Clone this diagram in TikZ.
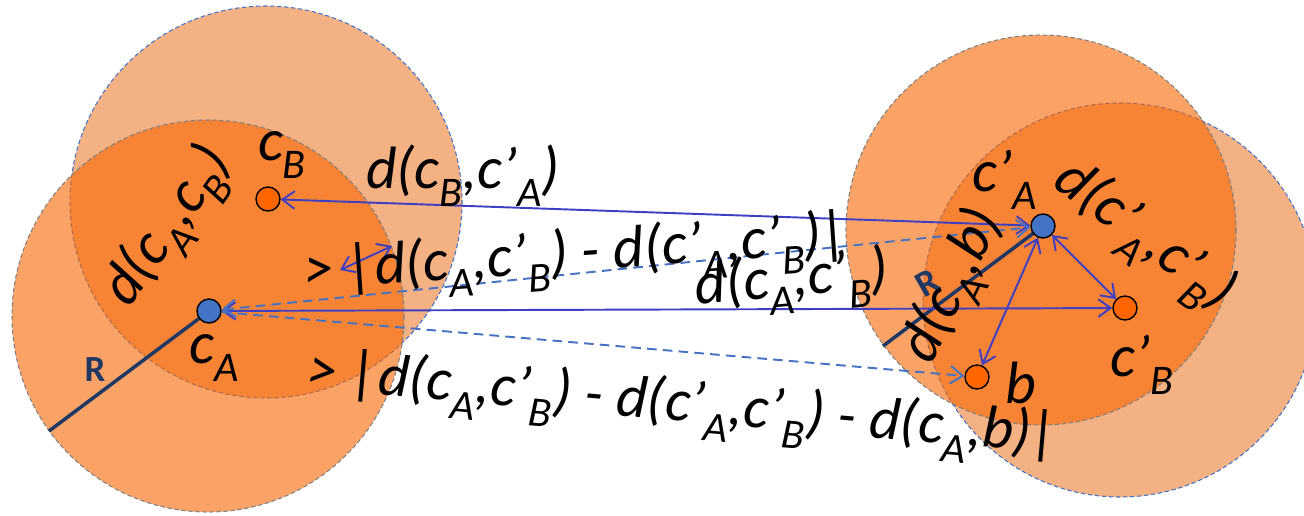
\documentclass[tikz,border=0pt]{standalone}
\usepackage{fontspec}
\setmainfont{Carlito}
\usetikzlibrary{arrows.meta}
\definecolor{peach}{HTML}{F4B183}
\definecolor{flame}{HTML}{F86600}
\definecolor{rimgray}{HTML}{7F7F7F}
\definecolor{rimblue}{HTML}{4472C4}
\definecolor{linkblue}{HTML}{3F3FC4}
\definecolor{dashblue}{HTML}{4472C4}
\definecolor{navy}{HTML}{203864}
\definecolor{dotorange}{HTML}{FF6600}
\newcommand\lbl{\fontsize{34}{38}\selectfont\itshape}
\newcommand\lo[1]{\raisebox{-.3em}{\fontsize{24}{26}\selectfont #1}}
\tikzset{>={Straight Barb[length=7pt,width=10pt]},
  every node/.style={font=\lbl,inner sep=0pt},
  lightdisc/.style={fill=peach,draw=rimblue,dash pattern=on 2.5pt off 1.5pt,line width=.6pt},
  deepdisc/.style={fill=flame,fill opacity=.6,draw=rimgray,draw opacity=1,dash pattern=on 2.5pt off 1.5pt,line width=.6pt},
  radiusline/.style={draw=navy,line width=2pt},
  rlabel/.style={font=\fontsize{21}{23}\selectfont\bfseries,text=navy},
  centre/.style={circle,draw=black,line width=.8pt,minimum size=.48cm},
  solidlink/.style={<->,draw=linkblue,line width=1.1pt},
  dashlink/.style={draw=dashblue,dash pattern=on 5.5pt off 3.5pt,line width=1.1pt}}
\begin{document}
\begin{tikzpicture}[x=.02cm,y=-.02cm]
\useasboundingbox (0,0) rectangle (1304,515);
\clip (0,0) rectangle (1304,515);
% points
\coordinate (pA) at (209,311);\coordinate (pB) at (268,199);
\coordinate (pAp) at (1043,226);\coordinate (pBp) at (1125,308);
\coordinate (pb) at (977,377);
\coordinate (rimA) at (49,431);\coordinate (rimAp) at (883,346);
\coordinate (gapL) at (340,270);\coordinate (gapR) at (392,246);
% discs
\draw[lightdisc] (266,202) circle (196);
\draw[deepdisc] (208,316) circle (196);
\draw[lightdisc] (1120,300) circle (197);
\draw[deepdisc] (1041,230) circle (195);
\draw[radiusline] (pA) -- (rimA);
\draw[radiusline] (pAp) -- (rimAp);
% centres
\node[centre,fill=rimblue] (cA) at (pA) {};
\node[centre,fill=dotorange] (cB) at (pB) {};
\node[centre,fill=rimblue] (cAp) at (pAp) {};
\node[centre,fill=dotorange] (cBp) at (pBp) {};
\node[centre,fill=dotorange] (bp) at (pb) {};
% links
\draw[solidlink] (cB) -- (cAp);
\draw[solidlink] (cA) -- (cBp);
\draw[solidlink] (cAp) -- (cBp);
\draw[solidlink] (cAp) -- (bp);
\draw[solidlink] (gapL) -- (gapR);
\draw[dashlink,<->] (cA) -- (cAp);
\draw[dashlink,->] (cA) -- (bp);
% labels
\node[rlabel] (rA) at (95,370) {R};
\node[rlabel,rotate=30] (rAp) at (927,283) {R};
\node (tB) at (282,155) {c\lo{B}};
\node (tA) at (214,358) {c\lo{A}};
\node[rotate=55] (dAB) at (170,228) {d(c\lo{A},c\lo{B})};
\node (dBAp) at (463,176) {d(c\lo{B},c’\lo{A})};
\node[rotate=4] (gapone) at (577,258) {> |d(c\lo{A},c’\lo{B}) - d(c’\lo{A},c’\lo{B})|};
\node[rotate=5] (dABp) at (792,283) {d(c\lo{A},c’\lo{B})};
\node[rotate=-5] (gaptwo) at (683,408) {> |d(c\lo{A},c’\lo{B}) - d(c’\lo{A},c’\lo{B}) - d(c\lo{A},b)|};
\node (tAp) at (1005,180) {c’\lo{A}};
\node[rotate=-37] (dApBp) at (1143,238) {d(c’\lo{A},c’\lo{B})};
\node[rotate=64] (dAb) at (955,287) {d(c\lo{A},b)};
\node (tb) at (1021,383) {b};
\node (tBp) at (1142,365) {c’\lo{B}};
\end{tikzpicture}
\end{document}
